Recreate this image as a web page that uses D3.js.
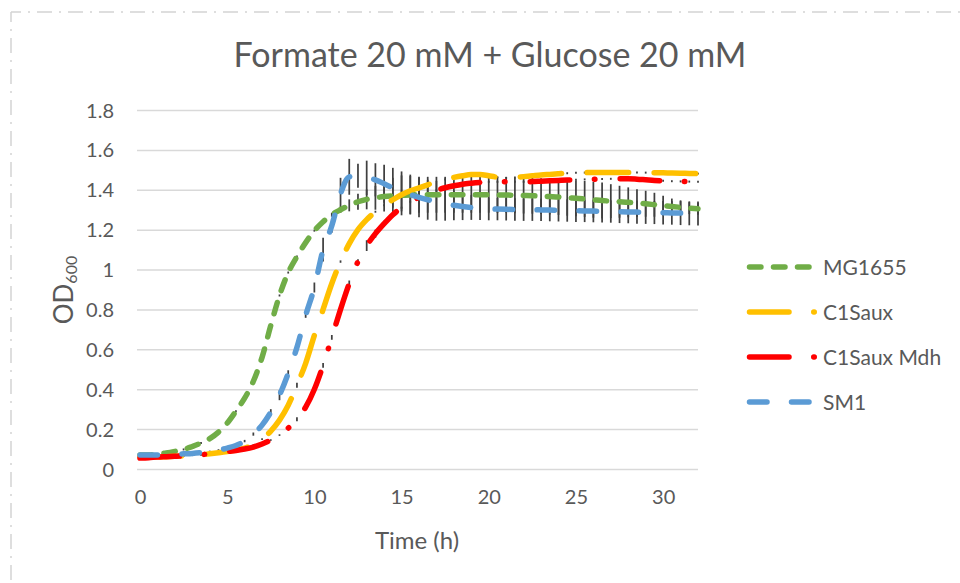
<!DOCTYPE html>
<html>
<head>
<meta charset="utf-8">
<script src="https://cdn.jsdelivr.net/npm/d3@7"></script>
<style>
  body { margin: 0; background: #fff; }
  text { font-family: Lato, "Open Sans", sans-serif; fill: #595959; }
</style>
</head>
<body>
<svg id="chart" width="960" height="583"></svg>
<script>
// Time points (h)
const time = [0,0.5,1,1.5,2,2.5,3,3.5,4,4.5,5,5.5,6,6.5,7,7.5,8,8.5,9,9.5,10,10.5,11,11.5,12,12.5,13,13.5,14,14.5,15,15.5,16,16.5,17,17.5,18,18.5,19,19.5,20,20.5,21,21.5,22,22.5,23,23.5,24,24.5,25,25.5,26,26.5,27,27.5,28,28.5,29,29.5,30,30.5,31,31.5,32];

// OD600 per strain
const mg1655 = [0.07,0.07,0.075,0.08,0.088,0.098,0.113,0.13,0.152,0.185,0.23,0.29,0.355,0.44,0.56,0.72,0.87,0.985,1.065,1.135,1.195,1.24,1.275,1.30,1.322,1.34,1.352,1.36,1.366,1.37,1.372,1.374,1.375,1.375,1.375,1.375,1.375,1.375,1.375,1.375,1.375,1.374,1.374,1.372,1.371,1.37,1.368,1.366,1.364,1.36,1.357,1.354,1.35,1.346,1.343,1.34,1.337,1.333,1.33,1.325,1.32,1.316,1.312,1.308,1.305];
const c1saux = [0.06,0.06,0.06,0.062,0.064,0.066,0.069,0.072,0.076,0.081,0.087,0.095,0.105,0.12,0.15,0.19,0.245,0.32,0.42,0.53,0.67,0.80,0.93,1.04,1.13,1.20,1.25,1.29,1.322,1.35,1.375,1.395,1.41,1.425,1.44,1.452,1.462,1.47,1.476,1.477,1.47,1.463,1.46,1.462,1.466,1.47,1.474,1.477,1.48,1.483,1.485,1.486,1.487,1.487,1.487,1.487,1.487,1.487,1.486,1.486,1.485,1.484,1.483,1.482,1.481];
const c1sauxMdh = [0.055,0.057,0.06,0.062,0.064,0.066,0.069,0.072,0.076,0.08,0.087,0.093,0.10,0.11,0.125,0.145,0.17,0.205,0.25,0.31,0.40,0.52,0.66,0.80,0.93,1.04,1.12,1.18,1.23,1.275,1.31,1.34,1.362,1.38,1.397,1.41,1.42,1.428,1.433,1.437,1.44,1.44,1.44,1.44,1.44,1.441,1.443,1.445,1.447,1.449,1.45,1.452,1.453,1.454,1.455,1.455,1.455,1.453,1.45,1.447,1.445,1.443,1.442,1.441,1.44];
const sm1 = [0.07,0.07,0.07,0.072,0.074,0.076,0.078,0.082,0.088,0.095,0.105,0.118,0.14,0.175,0.22,0.285,0.37,0.48,0.61,0.77,0.91,1.10,1.22,1.38,1.465,1.47,1.46,1.45,1.43,1.41,1.392,1.376,1.362,1.35,1.34,1.33,1.322,1.316,1.311,1.307,1.304,1.303,1.302,1.301,1.30,1.30,1.299,1.298,1.297,1.296,1.295,1.294,1.293,1.292,1.291,1.29,1.289,1.288,1.287,1.286,1.285,1.284,1.283,1.282,1.281];

// Standard deviations (error bars)
const mg1655Err = [0.005,0.005,0.005,0.005,0.005,0.005,0.005,0.005,0.005,0.005,0.005,0.005,0.005,0.005,0.005,0.005,0.005,0.005,0.005,0.005,0.005,0.01,0.01,0.015,0.03,0.04,0.05,0.06,0.075,0.09,0.10,0.095,0.09,0.09,0.09,0.09,0.09,0.09,0.09,0.09,0.09,0.09,0.09,0.09,0.09,0.09,0.09,0.09,0.09,0.09,0.09,0.09,0.09,0.09,0.085,0.08,0.075,0.07,0.065,0.06,0.05,0.04,0.035,0.03,0.03];
const c1sauxErr = [0.004,0.004,0.004,0.004,0.004,0.004,0.004,0.004,0.004,0.004,0.004,0.004,0.004,0.004,0.004,0.008,0.01,0.012,0.012,0.01,0.01,0.01,0.01,0.006,0.008,0.008,0.006,0.005,0.005,0.005,0.005,0.005,0.005,0.005,0.005,0.005,0.005,0.005,0.005,0.005,0.005,0.005,0.005,0.005,0.005,0.005,0.005,0.005,0.005,0.005,0.005,0.005,0.005,0.005,0.005,0.005,0.005,0.005,0.005,0.005,0.005,0.005,0.005,0.005,0.005];
const c1sauxMdhErr = [0.004,0.004,0.004,0.004,0.004,0.004,0.004,0.004,0.004,0.004,0.004,0.004,0.004,0.004,0.004,0.004,0.004,0.01,0.01,0.012,0.012,0.012,0.012,0.012,0.015,0.012,0.027,0.02,0.015,0.005,0.005,0.005,0.005,0.005,0.005,0.005,0.005,0.005,0.005,0.005,0.005,0.005,0.005,0.005,0.005,0.005,0.005,0.005,0.005,0.005,0.005,0.005,0.005,0.005,0.005,0.005,0.005,0.005,0.005,0.005,0.005,0.005,0.005,0.005,0.005];
const sm1Err = [0.004,0.004,0.004,0.004,0.004,0.004,0.004,0.004,0.004,0.004,0.004,0.005,0.006,0.008,0.01,0.015,0.025,0.015,0.015,0.012,0.025,0.06,0.035,0.08,0.09,0.06,0.086,0.083,0.095,0.10,0.10,0.10,0.10,0.10,0.095,0.085,0.075,0.068,0.062,0.058,0.057,0.056,0.056,0.056,0.056,0.056,0.056,0.056,0.056,0.056,0.056,0.056,0.056,0.056,0.056,0.057,0.057,0.058,0.058,0.058,0.059,0.059,0.06,0.06,0.06];

const xTicks = [0, 5, 10, 15, 20, 25, 30];
const yTicks = [0, 0.2, 0.4, 0.6, 0.8, 1, 1.2, 1.4, 1.6, 1.8];

const seriesNames = ["MG1655", "C1Saux", "C1Saux Mdh", "SM1"];
const seriesValues = [mg1655, c1saux, c1sauxMdh, sm1];
const seriesErrors = [mg1655Err, c1sauxErr, c1sauxMdhErr, sm1Err];
const seriesColors = ["#70ad47", "#ffc000", "#ff0000", "#5b9bd5"];
const plotDash = ["11.5,12.5", "41.5,25.5", "39.5,24.75,0.5,25.25", "17.5,24.5"];
const legendDash = ["11.5,12.5", "39.5,24.75,0.5,25.25", "39.5,24.75,0.5,25.25", "17.5,24.5"];

const svg = d3.select("#chart");
const plot = {left: 140, right: 698, top: 110, bottom: 469};

// outer dash-dot frame (top and left edges visible)
svg.append("path")
    .attr("d", "M11,12 H960 M11,12 V583")
    .attr("fill", "none")
    .attr("stroke", "#d4d4d4")
    .attr("stroke-width", 1.5)
    .attr("stroke-dasharray", "15,7,2,7")
    .attr("stroke-dashoffset", 5);

// Scales
const x = d3.scaleLinear().domain([0, 32]).range([plot.left, plot.right]);
const y = d3.scaleLinear().domain([0, 1.8]).range([plot.bottom, plot.top]);

// Y axis with gridlines
const yAxis = svg.append("g")
    .attr("transform", `translate(${plot.left - 3}, 0)`)
    .call(d3.axisLeft(y).tickValues(yTicks).tickSizeInner(-(plot.right - plot.left + 3)).tickSizeOuter(0).tickPadding(23).tickFormat(d => d));
yAxis.select(".domain").remove();
yAxis.selectAll("line").attr("stroke", "#d9d9d9").attr("stroke-width", 1.5);
yAxis.selectAll("text").style("font-size", "20px").attr("dy", "0.35em");

// X axis labels
const xAxis = svg.append("g")
    .attr("transform", `translate(0, ${plot.bottom})`)
    .call(d3.axisBottom(x).tickValues(xTicks).tickSize(0).tickFormat(d => d));
xAxis.select(".domain").remove();
xAxis.selectAll("text").style("font-size", "20px").attr("y", 35).attr("dy", 0);

// Title
svg.append("text")
    .attr("x", 490).attr("y", 67)
    .attr("text-anchor", "middle")
    .style("font-size", "34px")
    .text("Formate 20 mM + Glucose 20 mM");

// Axis titles
svg.append("text")
    .attr("x", 417).attr("y", 549)
    .attr("text-anchor", "middle")
    .style("font-size", "24px")
    .text("Time (h)");

const yTitle = svg.append("text")
    .attr("transform", "translate(73, 290) rotate(-90)")
    .attr("text-anchor", "middle")
    .style("font-size", "26px");
yTitle.append("tspan").text("OD");
yTitle.append("tspan").attr("dy", 4).style("font-size", "16px").text("600");

// Error bars, behind all lines
seriesValues.forEach((vals, s) => {
    const errs = seriesErrors[s];
    svg.append("g").selectAll("line")
        .data(time.map((t, i) => ({t, v: vals[i], e: errs[i]})))
        .join("line")
        .attr("x1", d => x(d.t)).attr("x2", d => x(d.t))
        .attr("y1", d => y(d.v + d.e)).attr("y2", d => y(d.v - d.e))
        .attr("stroke", "#404040")
        .attr("stroke-width", 1.75);
});

// Lines
const line = d3.line()
    .x(d => x(d.t))
    .y(d => y(d.v))
    .curve(d3.curveMonotoneX);

seriesValues.forEach((vals, s) => {
    svg.append("path")
        .datum(time.map((t, i) => ({t, v: vals[i]})))
        .attr("d", line)
        .attr("fill", "none")
        .attr("stroke", seriesColors[s])
        .attr("stroke-width", 5.5)
        .attr("stroke-linecap", "round")
        .attr("stroke-dasharray", plotDash[s]);
});

// Legend
const legend = svg.append("g");
seriesNames.forEach((name, s) => {
    const ly = 267 + s * 45;
    legend.append("line")
        .attr("x1", 749.5).attr("x2", 816)
        .attr("y1", ly).attr("y2", ly)
        .attr("stroke", seriesColors[s])
        .attr("stroke-width", 5.5)
        .attr("stroke-linecap", "round")
        .attr("stroke-dasharray", legendDash[s]);
    legend.append("text")
        .attr("x", 823).attr("y", ly)
        .attr("dy", "0.36em")
        .style("font-size", "21px")
        .text(name);
});
</script>
</body>
</html>
